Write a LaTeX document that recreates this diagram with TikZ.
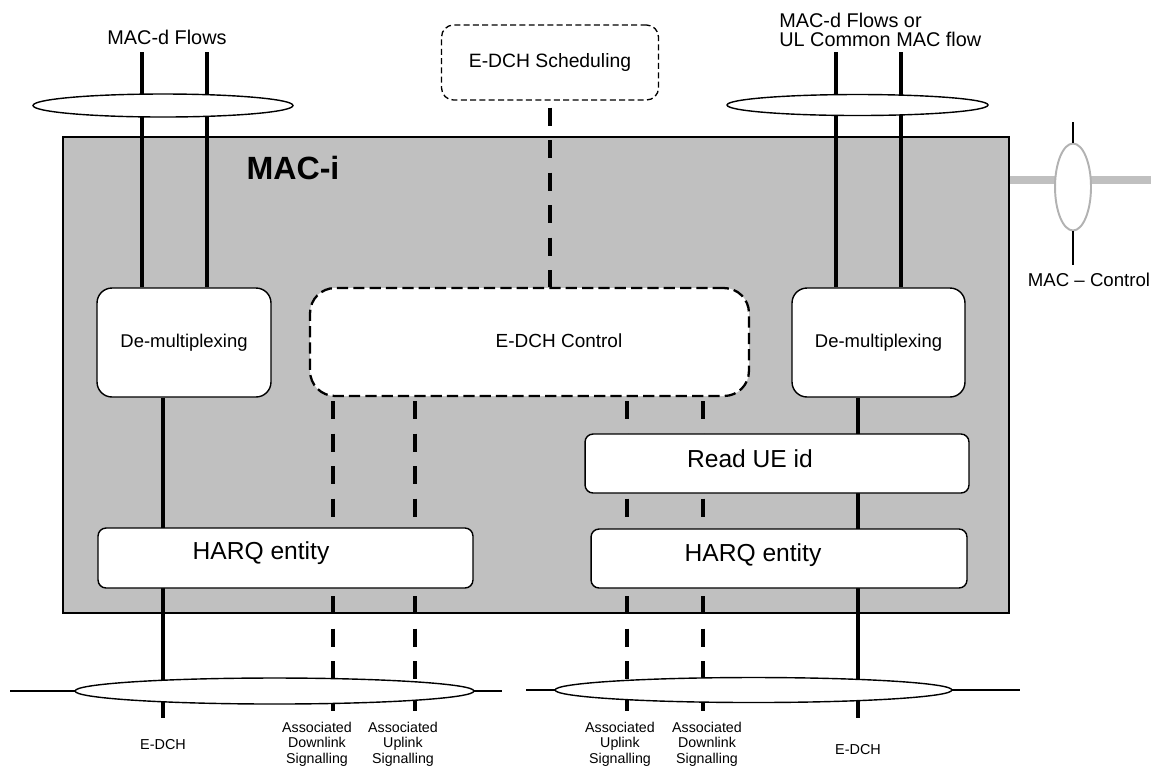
\documentclass[tikz,border=0pt]{standalone}
\usepackage{fontspec}
\setmainfont{Liberation Sans}
\usetikzlibrary{shapes.geometric, positioning, backgrounds}
\definecolor{macgray}{RGB}{192,192,192}
\definecolor{ctlgray}{RGB}{178,178,178}

\begin{document}
\begin{tikzpicture}[
    x=0.02cm, y=-0.02cm,
    box/.style={draw, fill=white, line width=0.8pt, inner sep=0pt},
    ring/.style={ellipse, draw, fill=white, line width=0.8pt, inner sep=0pt},
    flow/.style={line width=2.3pt},
    sig/.style={line width=2.3pt, dash pattern=on 10.2pt off 8.3pt},
    lbl/.style={inner sep=0pt, font=\fontsize{#1}{#1}\selectfont},
    lbl/.default=10,
    note/.style={inner sep=0pt, align=center, font=\fontsize{8.1}{8.8}\selectfont},
]
\useasboundingbox (0,0) rectangle (1151,769);

% free ends of the links
\coordinate (fL1) at (142,52);
\coordinate (fL2) at (207,52);
\coordinate (fR1) at (836,52);
\coordinate (fR2) at (901,52);
\coordinate (eL) at (163,718);
\coordinate (eR) at (858,718);
\coordinate (dA) at (333,711);
\coordinate (dB) at (415,711);
\coordinate (dC) at (627,711);
\coordinate (dD) at (703,711);
\coordinate (hL0) at (10,691);
\coordinate (hL1) at (502,691);
\coordinate (hR0) at (526,690);
\coordinate (hR1) at (1020,690);
\coordinate (ctlR) at (1151,180);
\coordinate (ctlT) at (1073,122);
\coordinate (ctlB) at (1073,265);

% boxes
\node[box, dash pattern=on 3.4pt off 1.9pt, line width=0.75pt, rounded corners=0.24cm,
      minimum width=4.34cm, minimum height=1.5cm, font=\fontsize{11}{12}\selectfont]
    (sched) at (550,62.5) {E-DCH Scheduling};
\node[box, dash pattern=on 6.4pt off 2.9pt, line width=1.3pt, rounded corners=0.5cm,
      minimum width=8.78cm, minimum height=2.16cm] (ctrl) at (529.5,342) {};
\node[lbl=10.8] (ctrltxt) at (559,341) {E-DCH Control};

\node[box, rounded corners=0.3cm, minimum width=3.48cm, minimum height=2.18cm,
      font=\fontsize{10.5}{12}\selectfont] (demuxL) at (184,342.5) {De-multiplexing};
\node[box, rounded corners=0.3cm, minimum width=3.46cm, minimum height=2.18cm,
      font=\fontsize{10.5}{12}\selectfont] (demuxR) at (878.5,342.5) {De-multiplexing};

\node[box, rounded corners=0.16cm, minimum width=7.68cm, minimum height=1.18cm] (readue) at (777,463.5) {};
\node[lbl=14] (readuetxt) at (750,459) {Read UE id};
\node[box, rounded corners=0.16cm, minimum width=7.5cm, minimum height=1.2cm] (harqL) at (285.5,558) {};
\node[lbl=14] (harqLtxt) at (261,553) {HARQ entity};
\node[box, rounded corners=0.16cm, minimum width=7.52cm, minimum height=1.18cm] (harqR) at (779,558.5) {};
\node[lbl=14] (harqRtxt) at (753,555) {HARQ entity};

% bundles
\node[ring, minimum width=5.2cm, minimum height=0.46cm] (flowEL) at (163,105.5) {};
\node[ring, minimum width=5.22cm, minimum height=0.42cm] (flowER) at (857.5,105) {};
\node[ring, minimum width=7.98cm, minimum height=0.52cm] (sigEL) at (274.5,691) {};
\node[ring, minimum width=7.94cm, minimum height=0.5cm] (sigER) at (753.5,690) {};
\node[ring, draw=ctlgray, line width=1.1pt, minimum width=0.72cm, minimum height=1.74cm] (ctlE) at (1073,187) {};

\begin{scope}[on background layer]
  \node[draw, fill=macgray, line width=1pt, inner sep=0pt,
        minimum width=18.92cm, minimum height=9.52cm] (maci) at (536,375) {};
  \draw[line width=4pt, macgray] (maci.east |- ctlR) -- (ctlR);
  \foreach \f in {fL1,fL2} \draw[flow] (\f) -- (\f |- demuxL.north);
  \foreach \f in {fR1,fR2} \draw[flow] (\f) -- (\f |- demuxR.north);
  \draw[flow] (demuxL.south -| eL) -- (eL);
  \draw[flow] (demuxR.south -| eR) -- (eR);
  \draw[sig, dash phase=14.5pt] (sched.south) -- (sched.south |- ctrl.north);
  \foreach \d in {dA,dB,dC,dD} \draw[sig, dash phase=16.2pt] (ctrl.south -| \d) -- (\d);
  \draw[line width=0.8pt] (hL0) -- (hL1);
  \draw[line width=0.8pt] (hR0) -- (hR1);
\end{scope}

\draw[line width=0.6pt] (ctlT) -- (ctlE.north);
\draw[line width=0.6pt] (ctlE.south) -- (ctlB);

% labels
\node[inner sep=0pt, font=\bfseries\fontsize{18.3}{20}\selectfont] (macitxt) at (293,168) {MAC-i};
\node[lbl=11.3] (flowLtxt) at (167,37) {MAC-d Flows};
\node[inner sep=0pt, anchor=west, align=left, font=\fontsize{11.3}{10.8}\selectfont]
    (flowRtxt) at (779,29.5) {MAC-d Flows or\\UL Common MAC flow};
\node[lbl=10.6] (ctltxt) at (1089,280) {MAC \textendash{} Control};

\node[lbl=8.2] (dchL) at (163,745) {E-DCH};
\node[note] (adlL) at (317,744) {Associated\\Downlink\\Signalling};
\node[note] (aulL) at (403,744) {Associated\\Uplink\\Signalling};
\node[note] (aulR) at (620,744) {Associated\\Uplink\\Signalling};
\node[note] (adlR) at (707,744) {Associated\\Downlink\\Signalling};
\node[lbl=8.2] (dchR) at (858,750) {E-DCH};

\end{tikzpicture}
\end{document}
